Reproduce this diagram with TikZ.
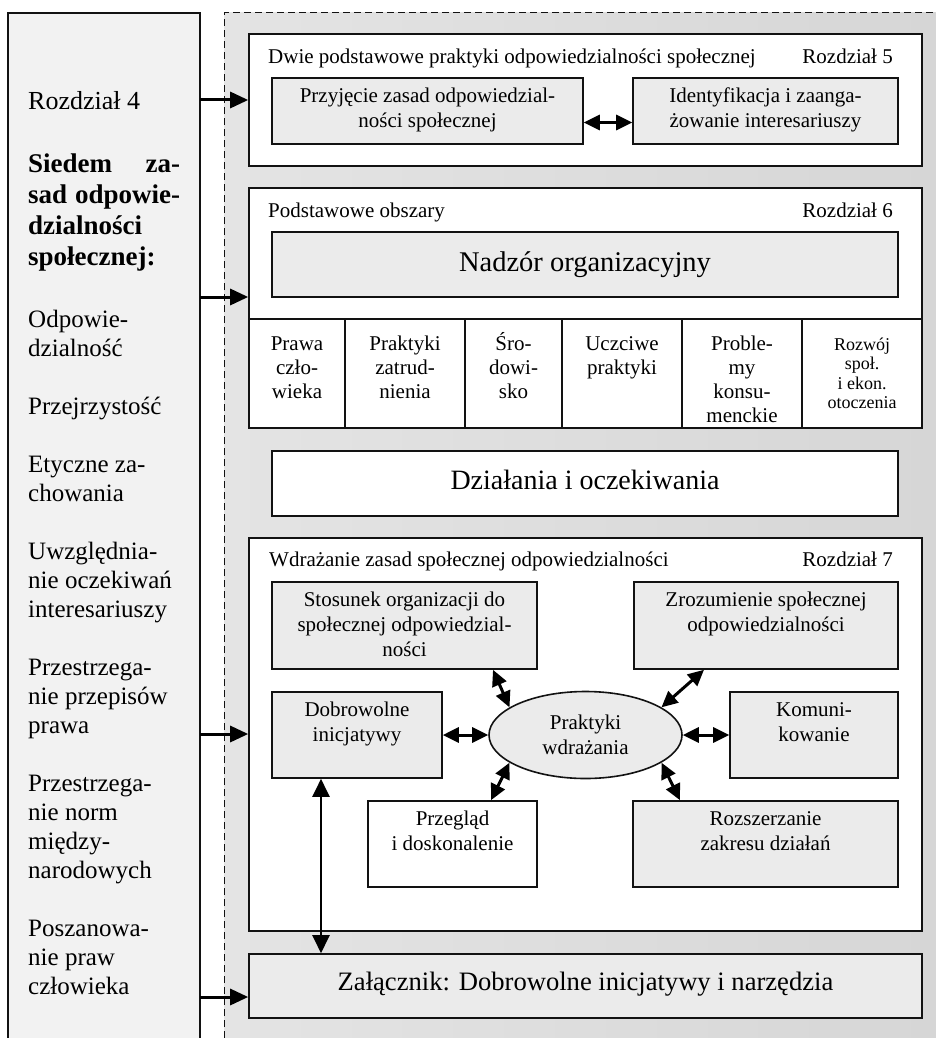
\documentclass[tikz,border=0pt]{standalone}
\usepackage{fontspec}
\setmainfont{Liberation Serif}
\usetikzlibrary{arrows.meta,shapes.geometric,fit}
\definecolor{areagray}{HTML}{D6D6D6}
\definecolor{areagrayL}{HTML}{E4E4E4}
\definecolor{boxgray}{HTML}{EBEBEB}
\definecolor{leftgray}{HTML}{F2F2F2}
\definecolor{linecol}{HTML}{121212}
\newcommand{\bst}{\rule{0pt}{20pt}}
\begin{document}
\begin{tikzpicture}[x=1pt,y=-1pt,
  frame/.style={draw=linecol, line width=1.6pt},
  wbox/.style={frame, fill=white, rectangle, inner sep=0pt},
  gbox/.style={frame, fill=boxgray, rectangle, inner sep=0pt},
  btxt/.style={anchor=north, align=center, inner sep=0pt, font=\fontsize{21}{25}\selectfont},
  ctxt/.style={anchor=north, align=center, inner sep=0pt, font=\fontsize{21}{24}\selectfont},
  stxt/.style={anchor=north, align=center, inner sep=0pt, font=\fontsize{18}{19.5}\selectfont},
  mtxt/.style={anchor=base, inner sep=0pt},
  ttl/.style={anchor=base west, inner sep=0pt, font=\fontsize{21}{25}\selectfont},
  ttlr/.style={anchor=base east, inner sep=0pt, font=\fontsize{21}{25}\selectfont},
  lft/.style={anchor=base west, inner sep=0pt, font=\fontsize{25}{29}\selectfont},
  bld/.style={anchor=base west, inner sep=0pt, font=\fontsize{27}{31}\selectfont\bfseries},
  bigarr/.style={draw=black, line width=3pt, -{Triangle[length=18pt,width=16pt]}},
  dbl/.style={draw=black, line width=3pt, {Triangle[length=16pt,width=15pt]}-{Triangle[length=16pt,width=15pt]}},
  vdbl/.style={draw=black, line width=2.2pt, {Triangle[length=18pt,width=17pt]}-{Triangle[length=18pt,width=17pt]}},
]
\useasboundingbox (0,0) rectangle (936,1038);

% dashed grey area
\shade[left color=areagrayL, right color=areagray] (224,13) rectangle (936,1038);
\draw[linecol, line width=1pt, dash pattern=on 7pt off 4pt] (224,1038) -- (224,13) -- (936,13);

% left column box
\fill[leftgray] (8,13) rectangle (200,1038);
\draw[frame] (8,1042) -- (8,13) -- (200,13) -- (200,1042);

% left column text
\node[lft, font=\fontsize{26}{30}\selectfont] (R4) at (28,110) {Rozdział 4};
\node[bld] (H1) at (28,172) {\makebox[152pt][s]{Siedem za-}};
\node[bld] (H2) at (28,203) {\makebox[152pt][s]{sad odpowie-}};
\node[bld] (H3) at (28,234) {dzialności};
\node[bld] (H4) at (28,265) {społecznej:};
\foreach \t/\yy [count=\i] in {Odpowie-/327, dzialność/356, Przejrzystość/414,
  Etyczne za-/472, chowania/501, Uwzględnia-/559, nie oczekiwań/588, interesariuszy/617,
  Przestrzega-/675, nie przepisów/704, prawa/733, Przestrzega-/791, nie norm/820,
  między-/849, narodowych/878, Poszanowa-/936, nie praw/965, człowieka/994}
  \node[lft] (L\i) at (28,\yy) {\t};

% ---- Rozdział 5 box
\node[wbox, fit={(249,34) (922,166)}] (B1) {};
\node[ttl] (T1) at (268,64) {Dwie podstawowe praktyki odpowiedzialności społecznej};
\node[ttlr] (T1r) at (893,64) {Rozdział 5};
\node[gbox, fit={(272,78) (583,144)}] (A) {};
\node[btxt] (At) at ([yshift=-5pt]A.north) {\bst Przyjęcie zasad odpowiedzial-\\ności społecznej};
\node[gbox, fit={(633,78) (898,144)}] (Bn) {};
\node[btxt] (Bt) at ([yshift=-5pt]Bn.north) {\bst Identyfikacja i zaanga-\\żowanie interesariuszy};
\draw[dbl] ([yshift=-11.5pt]A.east) -- ([yshift=-11.5pt]Bn.west);

% ---- Rozdział 6 box
\node[wbox, fit={(249,188) (922,428)}] (B2) {};
\node[ttl] (T2) at (268,217) {Podstawowe obszary};
\node[ttlr] (T2r) at (893,217) {Rozdział 6};
\node[gbox, fit={(272,232) (898,297)}] (N) {};
\node[mtxt, font=\fontsize{28.5}{32}\selectfont] (Nt) at ([yshift=-7pt]N.center) {Nadzór organizacyjny};
\node[wbox, fit={(249,319) (345,428)}] (c1) {};
\node[wbox, fit={(345,319) (465,428)}] (c2) {};
\node[wbox, fit={(465,319) (562,428)}] (c3) {};
\node[wbox, fit={(562,319) (682,428)}] (c4) {};
\node[wbox, fit={(682,319) (802,428)}] (c5) {};
\node[wbox, fit={(802,319) (922,428)}] (c6) {};
\node[ctxt] (c1t) at ([yshift=-12pt]c1.north) {\bst Prawa\\czło-\\wieka};
\node[ctxt] (c2t) at ([yshift=-12pt]c2.north) {\bst Praktyki\\zatrud-\\nienia};
\node[ctxt] (c3t) at ([yshift=-12pt]c3.north) {\bst Śro-\\dowi-\\sko};
\node[ctxt] (c4t) at ([yshift=-12pt]c4.north) {\bst Uczciwe\\praktyki};
\node[ctxt] (c5t) at ([yshift=-12pt]c5.north) {\bst Proble-\\my\\konsu-\\menckie};
\node[stxt] (c6t) at ([yshift=-12pt]c6.north) {\bst Rozwój\\społ.\\i ekon.\\otoczenia};

% ---- Działania
\node[wbox, fit={(272,451) (898,516)}] (DZ) {};
\node[mtxt, font=\fontsize{28}{32}\selectfont] (DZt) at ([yshift=-6pt]DZ.center) {Działania i oczekiwania};

% ---- Rozdział 7 box
\node[wbox, fit={(249,538) (922,931)}] (B3) {};
\node[ttl] (T3) at (269,566) {Wdrażanie zasad społecznej odpowiedzialności};
\node[ttlr] (T3r) at (893,566) {Rozdział 7};
\node[gbox, fit={(272,582) (537,669)}] (S) {};
\node[btxt] (St) at ([yshift=-5pt]S.north) {\bst Stosunek organizacji do\\społecznej odpowiedzial-\\ności};
\node[gbox, fit={(634,582) (898,669)}] (Zr) {};
\node[btxt] (Zt) at ([yshift=-5pt]Zr.north) {\bst Zrozumienie społecznej\\odpowiedzialności};
\node[gbox, fit={(272,692) (442,778)}] (D) {};
\node[btxt] (Dt) at ([yshift=-5pt]D.north) {\bst Dobrowolne\\inicjatywy};
\node[gbox, fit={(730,692) (898,778)}] (K) {};
\node[btxt] (Kt) at ([yshift=-5pt]K.north) {\bst Komuni-\\kowanie};
\node[wbox, fit={(368,801) (537,887)}] (P) {};
\node[btxt] (Pt) at ([yshift=-5pt]P.north) {\bst Przegląd\\i doskonalenie};
\node[gbox, fit={(633,801) (898,887)}] (R) {};
\node[btxt] (Rt) at ([yshift=-5pt]R.north) {\bst Rozszerzanie\\zakresu działań};
\node[frame, fill=boxgray, ellipse, minimum width=193pt, minimum height=87pt, inner sep=0pt,
      align=center, font=\fontsize{21}{25}\selectfont] (E) at (585.5,735) {Praktyki\\wdrażania};

\draw[dbl] (D.east) -- (E.west);
\draw[dbl] (K.west) -- (E.east);
\draw[dbl] ([xshift=88.5pt]S.south) -- (E.160);
\draw[dbl] ([xshift=-62pt]Zr.south) -- (E.20);
\draw[dbl] ([xshift=38.5pt]P.north) -- (E.200);
\draw[dbl] ([xshift=-85.5pt]R.north) -- (E.340);

% ---- Załącznik
\node[gbox, fit={(249,954) (922,1018)}] (ZA) {};
\node[mtxt, font=\fontsize{26.6}{30}\selectfont] (ZAt) at ([yshift=-4pt]ZA.center) {Załącznik: Dobrowolne inicjatywy i narzędzia};
\draw[vdbl] ([xshift=-36pt]D.south) -- ([xshift=-36pt]D.south |- ZA.north);

% ---- arrows from the left column
\coordinate (s1) at (200,100);
\coordinate (s2) at (200,297);
\coordinate (s3) at (200,734);
\coordinate (s4) at (200,997);
\draw[bigarr] (s1) -- (s1 -| B1.west);
\draw[bigarr] (s2) -- (s2 -| B2.west);
\draw[bigarr] (s3) -- (s3 -| B3.west);
\draw[bigarr] (s4) -- (s4 -| ZA.west);
\end{tikzpicture}
\end{document}
